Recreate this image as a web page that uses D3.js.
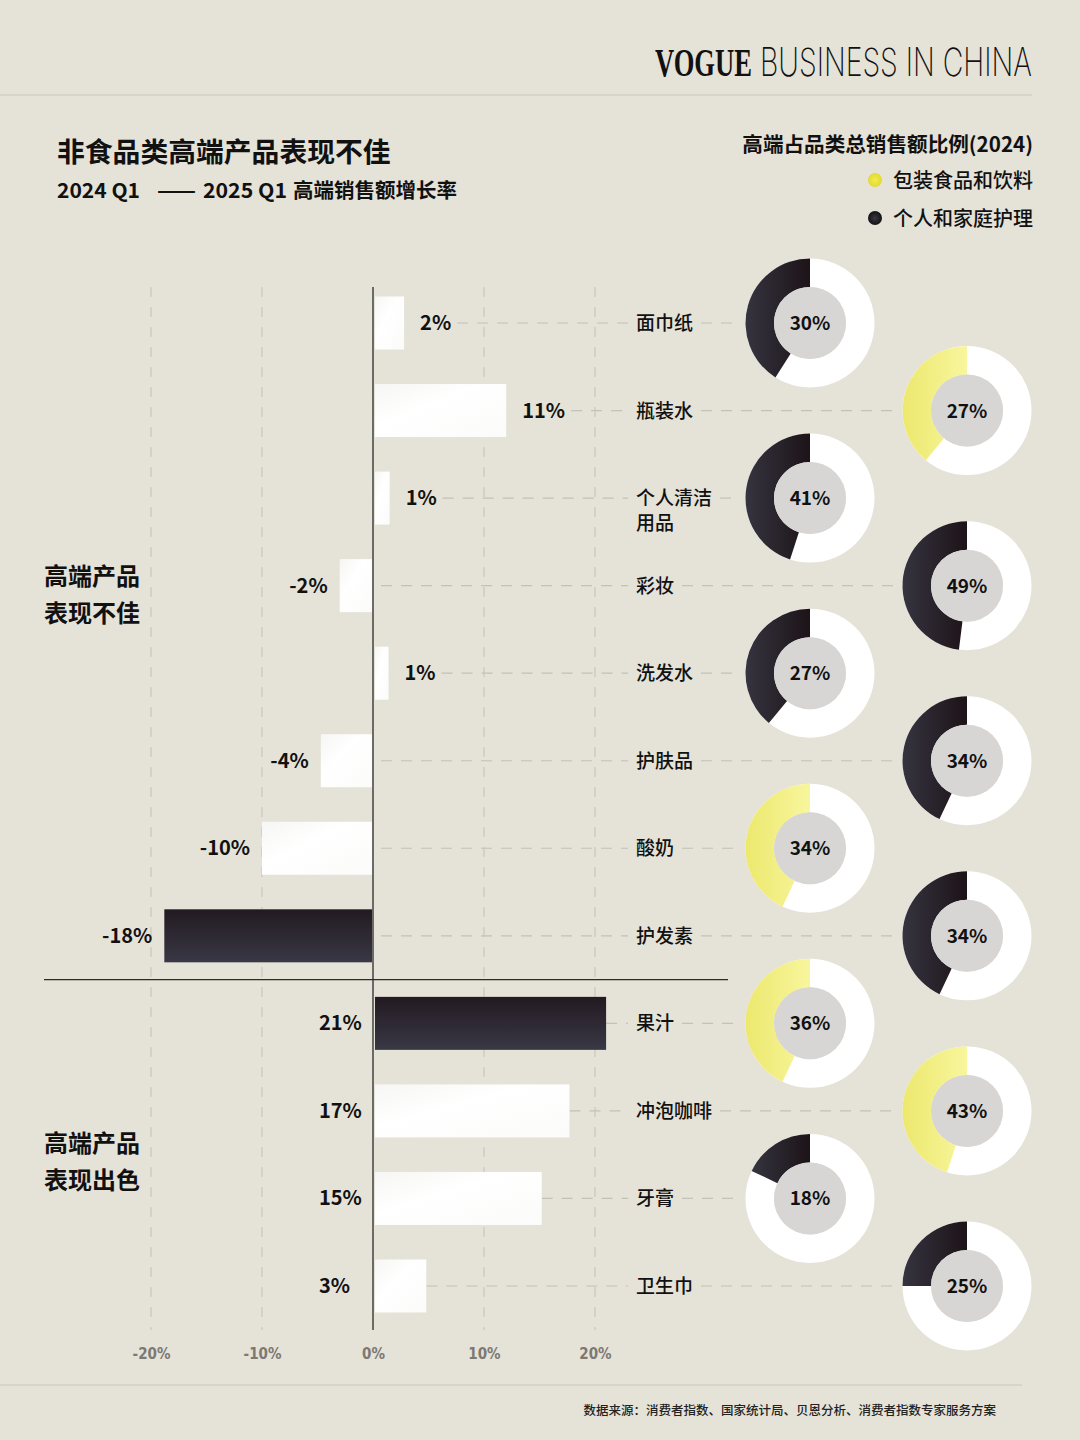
<!DOCTYPE html>
<html><head><meta charset="utf-8">
<script src="https://cdn.jsdelivr.net/npm/d3@7"></script>
<style>
html,body{margin:0;padding:0;background:#e5e2d8;}
svg{display:block;}
</style></head>
<body>
<svg id="chart" width="1080" height="1440"></svg>
<script>
// ---- data ----
const categories = ["面巾纸","瓶装水","个人清洁\n用品","彩妆","洗发水","护肤品","酸奶","护发素","果汁","冲泡咖啡","牙膏","卫生巾"];
const growthLabels = ["2%","11%","1%","-2%","1%","-4%","-10%","-18%","21%","17%","15%","3%"];
const growthBars = [2.8, 12, 1.5, -3, 1.4, -4.7, -10, -18.8, 21, 17.7, 15.2, 4.8]; // bar lengths as drawn
const groupOf = ["poor","poor","poor","poor","poor","poor","poor","poor","good","good","good","good"];
const groupNames = {poor:["高端产品","表现不佳"], good:["高端产品","表现出色"]};
const segmentOf = ["care","food","care","care","care","care","food","care","food","food","care","care"];
const segmentNames = {food:"包装食品和饮料", care:"个人和家庭护理"};
const shareLabels = ["30%","27%","41%","49%","27%","34%","34%","34%","36%","43%","18%","25%"];
const shareArcs = [41, 39, 45, 48, 39, 43, 43, 43, 43, 45, 18, 25]; // arc sizes as drawn (%)
const xTicks = [-20,-10,0,10,20];

const FONT = "'Noto Sans CJK SC','Noto Sans',sans-serif";
const svg = d3.select("#chart");
const W = 1080, H = 1440;
svg.append("rect").attr("width",W).attr("height",H).attr("fill","#e5e2d8");

// defs
const defs = svg.append("defs");
const gDark = defs.append("linearGradient").attr("id","barDark").attr("x1",0).attr("y1",0).attr("x2",0).attr("y2",1);
gDark.append("stop").attr("offset","0%").attr("stop-color","#221a21");
gDark.append("stop").attr("offset","100%").attr("stop-color","#393845");
const gWhite = defs.append("linearGradient").attr("id","barWhite").attr("x1",0).attr("y1",0).attr("x2",1).attr("y2",1);
gWhite.append("stop").attr("offset","0%").attr("stop-color","#f6f6f4");
gWhite.append("stop").attr("offset","40%").attr("stop-color","#ffffff");
gWhite.append("stop").attr("offset","100%").attr("stop-color","#fbfbfa");
const aDark = defs.append("linearGradient").attr("id","arcDark").attr("x1",0).attr("y1",0).attr("x2",1).attr("y2",0);
aDark.append("stop").attr("offset","0%").attr("stop-color","#35343f");
aDark.append("stop").attr("offset","100%").attr("stop-color","#1d1318");
const aFood = defs.append("linearGradient").attr("id","arcFood").attr("x1",0).attr("y1",0).attr("x2",1).attr("y2",0);
aFood.append("stop").attr("offset","0%").attr("stop-color","#ece86e");
aFood.append("stop").attr("offset","100%").attr("stop-color","#f8f69d");
const lgFood = defs.append("radialGradient").attr("id","dotFood");
lgFood.append("stop").attr("offset","0%").attr("stop-color","#f3ec4a");
lgFood.append("stop").attr("offset","100%").attr("stop-color","#e2d934");
const lgDark = defs.append("radialGradient").attr("id","dotDark");
lgDark.append("stop").attr("offset","0%").attr("stop-color","#3a3940");
lgDark.append("stop").attr("offset","100%").attr("stop-color","#141216");

// ---- header (logo condensed by horizontal scaling) ----
function fitText(sel, x0, yBase, targetW){
  sel.attr("x",0).attr("y",0);
  const w = sel.node().getComputedTextLength();
  sel.attr("transform",`translate(${x0},${yBase}) scale(${targetW/w},1)`);
}
const vogue = svg.append("text").attr("font-family","'Liberation Serif','DejaVu Serif',serif")
  .attr("font-weight",700).attr("font-size",41).attr("fill","#111").text("VOGUE");
fitText(vogue, 655, 76, 97);
const biz = svg.append("text").attr("font-family","Inter,Lato,sans-serif")
  .attr("font-weight",200).attr("font-size",39).attr("fill","#111").text("BUSINESS IN CHINA");
fitText(biz, 760, 76, 272);
svg.append("line").attr("x1",0).attr("x2",1032).attr("y1",95).attr("y2",95).attr("stroke","#c9c6bc").attr("stroke-width",1.2);

svg.append("text").attr("x",57).attr("y",162).attr("font-family",FONT).attr("font-weight",700)
  .attr("font-size",27.8).attr("fill","#111").text("非食品类高端产品表现不佳");
const sub = svg.append("text").attr("y",198).attr("font-family",FONT).attr("font-weight",700)
  .attr("font-size",20.5).attr("fill","#111");
sub.append("tspan").attr("x",57).attr("textLength",83).attr("lengthAdjust","spacingAndGlyphs").text("2024 Q1");
sub.append("tspan").attr("x",157).attr("textLength",39).attr("lengthAdjust","spacingAndGlyphs").text("——");
sub.append("tspan").attr("x",203).attr("textLength",84).attr("lengthAdjust","spacingAndGlyphs").text("2025 Q1");
sub.append("tspan").attr("x",293).text("高端销售额增长率");

// legend
svg.append("text").attr("x",1033).attr("y",152).attr("text-anchor","end").attr("font-family",FONT).attr("font-weight",700)
  .attr("font-size",20.6).attr("fill","#111").text("高端占品类总销售额比例(2024)");
const legendItems = ["food","care"];
legendItems.forEach((k,i)=>{
  const y = 180 + i*38;
  svg.append("circle").attr("cx",875).attr("cy",y).attr("r",7).attr("fill", k==="food"?"url(#dotFood)":"url(#dotDark)");
  svg.append("text").attr("x",1033).attr("y",y+8).attr("text-anchor","end").attr("font-family",FONT).attr("font-weight",500)
    .attr("font-size",20).attr("fill","#111").text(segmentNames[k]);
});

// ---- scales ----
const x = d3.scaleLinear().domain([-20,20]).range([151,595]);
const y = d3.scalePoint().domain(d3.range(categories.length)).range([323,1286]);
const yTop = 287, yBot = 1330;
const barH = 53;

// gridlines
const grid = svg.append("g");
grid.selectAll("line").data(xTicks.filter(t=>t!==0)).join("line")
  .attr("x1",d=>x(d)).attr("x2",d=>x(d)).attr("y1",yTop).attr("y2",yBot)
  .attr("stroke","#c4c1b7").attr("stroke-width",1).attr("stroke-dasharray","10,10");

// axis tick labels
const axis = d3.axisBottom(x).tickValues(xTicks).tickFormat(d=>d+"%").tickSize(0);
const axG = svg.append("g").attr("transform",`translate(0,${1347})`).call(axis);
axG.select(".domain").remove();
axG.selectAll("text").attr("font-family","'Liberation Sans Narrow','DejaVu Sans Condensed','Roboto',sans-serif")
  .attr("font-weight",700).attr("font-size",15).attr("fill","#7c7973").attr("dy","0.6em");

const donutCx = i => (i%2===0 ? 810 : 967);
const donutR = 64.5, donutIn = 36;

// category labels (first line on the row, extra lines below)
const catG = svg.append("g");
const catFirst = [];
categories.forEach((c,i)=>{
  c.split("\n").forEach((line,j)=>{
    const t = catG.append("text").attr("x",636).attr("y",y(i)+7+j*25)
      .attr("font-family",FONT).attr("font-weight",500).attr("font-size",19).attr("fill","#111").text(line);
    if (j===0) catFirst.push(t.node());
  });
});

// value labels
const valG = svg.append("g");
const valText = valG.selectAll("text").data(growthLabels).join("text")
  .attr("font-family",FONT).attr("font-weight",700).attr("font-size",20).attr("fill","#111")
  .attr("y",(d,i)=>y(i)+7)
  .attr("x",(d,i)=>{
    const v = growthBars[i];
    if (groupOf[i]==="good") return 319;
    return v>=0 ? x(v)+16 : x(v)-12;
  })
  .attr("text-anchor",(d,i)=> (groupOf[i]==="poor" && growthBars[i]<0) ? "end" : "start")
  .text(d=>d);

// connector dashed lines (behind bars; gaps around texts)
const conG = svg.insert("g", () => valG.node());
categories.forEach((c,i)=>{
  const v = growthBars[i];
  let startX;
  if (groupOf[i]==="poor" && v>=0) {
    const bb = valText.nodes()[i].getBBox(); startX = bb.x+bb.width+6;
  } else if (v>=0) startX = x(v);
  else startX = x(0)+8;
  const cb = catFirst[i].getBBox();
  const segs = [[startX, 628],[cb.x+cb.width+8, donutCx(i)-donutR-6]];
  segs.forEach(s=>{
    conG.append("line").attr("x1",s[0]).attr("x2",s[1]).attr("y1",y(i)).attr("y2",y(i))
      .attr("stroke","#c4c1b7").attr("stroke-width",1.2).attr("stroke-dasharray","11,9");
  });
});

// bars
const vMin = d3.min(growthBars), vMax = d3.max(growthBars);
svg.insert("g", () => valG.node()).selectAll("rect").data(growthBars).join("rect")
  .attr("x",d=> d>=0 ? x(0)+2 : x(d))
  .attr("width",d=> Math.abs(x(d)-x(0)) - (d>=0?2:1))
  .attr("y",(d,i)=>y(i)-barH/2).attr("height",barH)
  .attr("fill",d=> (d===vMin||d===vMax) ? "url(#barDark)" : "url(#barWhite)");

// zero axis line
svg.append("line").attr("x1",x(0)).attr("x2",x(0)).attr("y1",yTop).attr("y2",yBot).attr("stroke","#2b2a2c").attr("stroke-width",1.3);

// separator between groups
const splitIdx = groupOf.indexOf("good");
const ySep = (y(splitIdx-1)+y(splitIdx))/2;
svg.append("line").attr("x1",44).attr("x2",728).attr("y1",ySep).attr("y2",ySep).attr("stroke","#2b2a2c").attr("stroke-width",1.2);

// group labels
const groupLabelShift = {poor:-44, good:-3};
["poor","good"].forEach(g=>{
  const idx = d3.range(groupOf.length).filter(i=>groupOf[i]===g);
  const cy = (y(idx[0])+y(idx[idx.length-1]))/2 + groupLabelShift[g];
  groupNames[g].forEach((t,j)=>{
    svg.append("text").attr("x",44).attr("y",cy + j*37)
      .attr("font-family",FONT).attr("font-weight",700).attr("font-size",24).attr("fill","#111").text(t);
  });
});

// donuts
const arcFull = d3.arc().innerRadius(donutIn).outerRadius(donutR).startAngle(0).endAngle(2*Math.PI);
const arcShare = d3.arc().innerRadius(donutIn).outerRadius(donutR);
const dG = svg.append("g").selectAll("g").data(categories).join("g")
  .attr("transform",(d,i)=>`translate(${donutCx(i)},${y(i)})`);
dG.append("path").attr("d",arcFull()).attr("fill","#ffffff");
dG.append("path").attr("d",(d,i)=>arcShare({startAngle:-shareArcs[i]/100*2*Math.PI, endAngle:0}))
  .attr("fill",(d,i)=> segmentOf[i]==="food" ? "url(#arcFood)" : "url(#arcDark)");
dG.append("circle").attr("r",donutIn).attr("fill","#d7d6d4");
dG.append("text").attr("text-anchor","middle").attr("y",7).attr("font-family",FONT).attr("font-weight",700)
  .attr("font-size",19).attr("fill","#111").text((d,i)=>shareLabels[i]);

// footer
svg.append("line").attr("x1",0).attr("x2",1022).attr("y1",1385).attr("y2",1385).attr("stroke","#c9c6bc").attr("stroke-width",1.2);
svg.append("text").attr("x",996).attr("y",1415).attr("text-anchor","end").attr("font-family",FONT).attr("font-weight",500)
  .attr("font-size",12.5).attr("fill","#222").text("数据来源：消费者指数、国家统计局、贝恩分析、消费者指数专家服务方案");
</script>
</body></html>
